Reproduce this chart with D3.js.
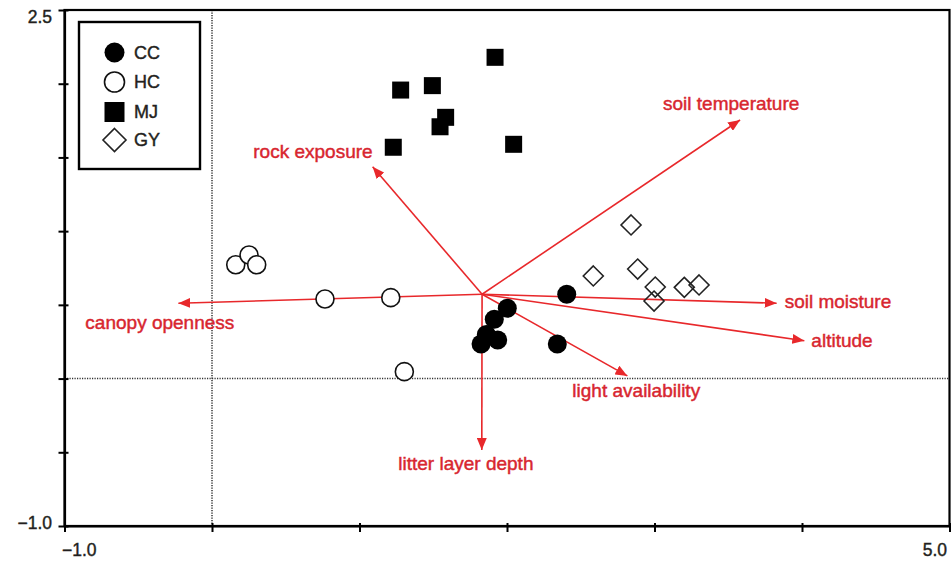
<!DOCTYPE html>
<html><head><meta charset="utf-8">
<script src="https://cdn.jsdelivr.net/npm/d3@7"></script>
<style>
html,body{margin:0;padding:0;background:#fff;}
svg{display:block;font-family:"Liberation Sans",Arial,Helvetica,sans-serif;}
</style></head>
<body>
<svg id="c" width="952" height="562"></svg>
<script>
// ---- data ----
const groups = ["CC","HC","MJ","GY"];
const ccX = [2.405, 2.002, 1.914, 1.860, 1.824, 1.937, 2.341];
const ccY = [0.572, 0.477, 0.402, 0.299, 0.234, 0.262, 0.234];
const hcX = [0.161, 0.251, 0.303, 0.766, 1.212, 1.304];
const hcY = [0.772, 0.838, 0.772, 0.540, 0.549, 0.047];
const mjX = [1.919, 1.279, 1.494, 1.584, 1.546, 1.229, 2.045];
const mjY = [2.179, 1.957, 1.987, 1.772, 1.708, 1.569, 1.589];
const gyX = [2.841, 2.585, 2.886, 3.005, 2.997, 3.202, 3.302];
const gyY = [1.042, 0.696, 0.743, 0.621, 0.526, 0.619, 0.635];
const vecOrigin = [1.831, 0.572];
const vecNames = ["soil temperature","rock exposure","canopy openness","soil moisture","altitude","light availability","litter layer depth"];
const vecX = [3.580, 1.089, -0.228, 3.828, 4.016, 2.816, 1.829];
const vecY = [1.754, 1.437, 0.511, 0.511, 0.257, 0.018, -0.484];
const xTicks = [-1, 0, 1, 2, 3, 4, 5];
const yTicks = [-1, -0.5, 0, 0.5, 1, 1.5, 2, 2.5];
const xTickLabels = {"-1":"\u22121.0", "5":"5.0"};
const yTickLabels = {"-1":"\u22121.0", "2.5":"2.5"};

// ---- layout ----
const svg = d3.select("#c");
const x = d3.scaleLinear().domain([-1,5]).range([64.5,949.5]);
const y = d3.scaleLinear().domain([-1,2.5]).range([526,10]);
const red = "#e8282b", redText = "#d8262f", ink = "#231f20";

// dotted zero lines
svg.append("line").attr("x1",x(0)).attr("x2",x(0)).attr("y1",y(2.5)).attr("y2",y(-1))
  .attr("stroke","#333").attr("stroke-width",1.5).attr("stroke-dasharray","1.2,1.3");
svg.append("line").attr("x1",x(-1)).attr("x2",x(5)).attr("y1",y(0)).attr("y2",y(0))
  .attr("stroke","#333").attr("stroke-width",1.5).attr("stroke-dasharray","1.2,1.3");

// frame
svg.append("rect").attr("x",x(-1)).attr("y",y(2.5)).attr("width",x(5)-x(-1)).attr("height",y(-1)-y(2.5))
  .attr("fill","none").attr("stroke","#000").attr("stroke-width",2.2);

// axes
const gx = svg.append("g").attr("transform",`translate(0,${y(-1)})`)
  .call(d3.axisBottom(x).tickValues(xTicks).tickSize(6).tickSizeOuter(0).tickPadding(12)
    .tickFormat(d => xTickLabels[String(d)] || ""));
const gy = svg.append("g").attr("transform",`translate(${x(-1)},0)`)
  .call(d3.axisLeft(y).tickValues(yTicks).tickSize(6).tickSizeOuter(0).tickPadding(6.5)
    .tickFormat(d => yTickLabels[String(d)] || ""));
[gx,gy].forEach(g=>{
  g.select(".domain").attr("stroke","#000").attr("stroke-width",2.2);
  g.selectAll(".tick line").attr("stroke","#000").attr("stroke-width",2);
  g.selectAll(".tick text").attr("fill",ink).attr("stroke",ink).attr("stroke-width",0.4).style("font-size","17.5px");
});
gx.selectAll(".tick line").attr("y1",-3);
gy.selectAll(".tick line").attr("x1",4);
gx.selectAll(".tick text").filter(d=>d===-1).attr("text-anchor","start").attr("x",-3);
gx.selectAll(".tick text").filter(d=>d===5).attr("text-anchor","end").attr("x",-3);
gy.selectAll(".tick text").filter(d=>d===2.5).attr("dy","0.72em");
gy.selectAll(".tick text").filter(d=>d===-1).attr("dy","0.12em");

// vectors
const defs = svg.append("defs");
defs.append("marker").attr("id","ah").attr("viewBox","0 0 12 10").attr("refX",12).attr("refY",5)
  .attr("markerWidth",12).attr("markerHeight",10).attr("markerUnits","userSpaceOnUse").attr("orient","auto")
  .append("path").attr("d","M0,0L12,5L0,10Z").attr("fill",red);
const labelOff = {
  "soil temperature":[-77,-10,"start"],
  "rock exposure":[0,-9,"end"],
  "canopy openness":[-93,26,"start"],
  "soil moisture":[8,5,"start"],
  "altitude":[7,6,"start"],
  "light availability":[-55,21,"start"],
  "litter layer depth":[-83.5,20,"start"]
};
const vecs = vecNames.map((n,i)=>({name:n, x:vecX[i], y:vecY[i]}));
svg.append("g").selectAll("line").data(vecs).join("line")
  .attr("x1",x(vecOrigin[0])).attr("y1",y(vecOrigin[1]))
  .attr("x2",d=>x(d.x)).attr("y2",d=>y(d.y))
  .attr("stroke",red).attr("stroke-width",1.6).attr("marker-end","url(#ah)");
svg.append("g").selectAll("text").data(vecs).join("text")
  .attr("x",d=>x(d.x)+labelOff[d.name][0]).attr("y",d=>y(d.y)+labelOff[d.name][1])
  .attr("text-anchor",d=>labelOff[d.name][2])
  .attr("fill",redText).attr("stroke",redText).attr("stroke-width",0.45)
  .style("font-size","19px").text(d=>d.name);

// points
const toPts = (xs,ys)=>xs.map((v,i)=>({x:v,y:ys[i]}));
const gp = svg.append("g");
gp.selectAll("circle.hc").data(toPts(hcX,hcY)).join("circle").attr("class","hc")
  .attr("cx",d=>x(d.x)).attr("cy",d=>y(d.y)).attr("r",9)
  .attr("fill","#fff").attr("stroke","#111").attr("stroke-width",1.6);
const s = 17;
gp.selectAll("rect.mj").data(toPts(mjX,mjY)).join("rect").attr("class","mj")
  .attr("x",d=>x(d.x)-s/2).attr("y",d=>y(d.y)-s/2).attr("width",s).attr("height",s).attr("fill","#000");
const dm = 10;
gp.selectAll("path.gy").data(toPts(gyX,gyY)).join("path").attr("class","gy")
  .attr("d",d=>{const cx=x(d.x),cy=y(d.y);return `M${cx},${cy-dm}L${cx+dm},${cy}L${cx},${cy+dm}L${cx-dm},${cy}Z`;})
  .attr("fill","#fff").attr("fill-opacity",0).attr("stroke","#222").attr("stroke-width",1.6);
gp.selectAll("circle.cc").data(toPts(ccX,ccY)).join("circle").attr("class","cc")
  .attr("cx",d=>x(d.x)).attr("cy",d=>y(d.y)).attr("r",9.5).attr("fill","#000");

// legend
const lg = svg.append("g");
lg.append("rect").attr("x",79).attr("y",22).attr("width",121).attr("height",147)
  .attr("fill","#fff").attr("stroke","#000").attr("stroke-width",2.4);
const ly = [52.5, 82, 112, 140];
groups.forEach((g,i)=>{
  const cx = 114.5, cy = ly[i];
  if (g==="CC") lg.append("circle").attr("cx",cx).attr("cy",cy).attr("r",10).attr("fill","#000");
  if (g==="HC") lg.append("circle").attr("cx",cx).attr("cy",cy).attr("r",10).attr("fill","#fff").attr("stroke","#111").attr("stroke-width",1.6);
  if (g==="MJ") lg.append("rect").attr("x",cx-10).attr("y",cy-10).attr("width",20).attr("height",20).attr("fill","#000");
  if (g==="GY") lg.append("path").attr("d",`M${cx},${cy-11.5}L${cx+11.5},${cy}L${cx},${cy+11.5}L${cx-11.5},${cy}Z`).attr("fill","#fff").attr("stroke","#222").attr("stroke-width",1.6);
  lg.append("text").attr("x",134).attr("y",cy).attr("dy","0.36em").attr("fill",ink)
    .attr("stroke",ink).attr("stroke-width",0.4)
    .style("font-size","18px").text(g);
});
</script>
</body></html>
